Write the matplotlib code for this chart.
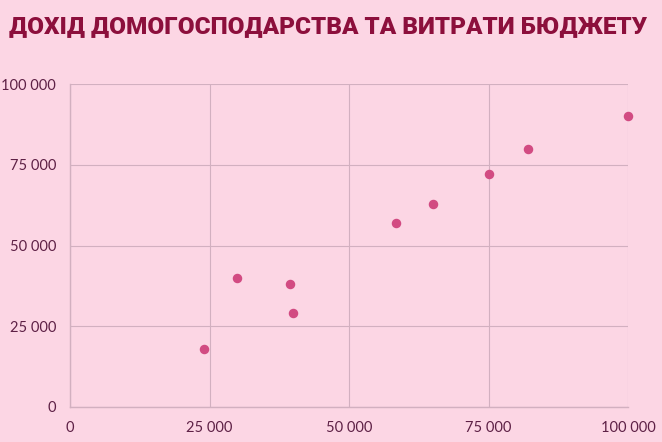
import matplotlib
matplotlib.use("Agg")
import matplotlib.pyplot as plt
from matplotlib.ticker import FuncFormatter

# household income vs budget spending
income = [24000, 30000, 39500, 40000, 58500, 65000, 75000, 82000, 100000]
spending = [18000, 40000, 38000, 29000, 57000, 63000, 72000, 80000, 90000]
ticks = [0, 25000, 50000, 75000, 100000]
title = "ДОХІД ДОМОГОСПОДАРСТВА ТА ВИТРАТИ БЮДЖЕТУ"

bg = "#fcd6e4"
grid_col = "#d2b0c0"
dot_col = "#d24b82"
text_col = "#5e2146"

fig = plt.figure(figsize=(6.62, 4.42), dpi=100, facecolor=bg)
ax = fig.add_axes([70/662, 35/442, 558/662, 323/442], facecolor=bg)

ax.scatter(income, spending, s=34, color=dot_col, zorder=3, clip_on=False)

ax.set_xlim(0, 100000)
ax.set_ylim(0, 100000)
ax.set_xticks(ticks)
ax.set_yticks(ticks)
fmt = FuncFormatter(lambda v, p: f"{int(v):,}".replace(",", " "))
ax.xaxis.set_major_formatter(fmt)
ax.yaxis.set_major_formatter(fmt)
ax.grid(True, color=grid_col, linewidth=0.8)
ax.set_axisbelow(True)
for s in ["top", "right"]:
    ax.spines[s].set_visible(False)
for s in ["left", "bottom"]:
    ax.spines[s].set_color(grid_col)
    ax.spines[s].set_linewidth(1.0)
ax.tick_params(length=0, labelsize=10.5, labelcolor=text_col, pad=10)
for lab in ax.get_xticklabels() + ax.get_yticklabels():
    lab.set_family("Lato")

t = fig.text(0.495, 0.94, title, ha="center", va="center", fontsize=20,
             fontweight="black", color="#8c0f3c", family="Roboto")
# shrink title so it spans roughly the same width as the reference
fig.canvas.draw()
w = t.get_window_extent().width
t.set_fontsize(20 * 638 / w)

fig.savefig("out.png", dpi=100, facecolor=bg)
